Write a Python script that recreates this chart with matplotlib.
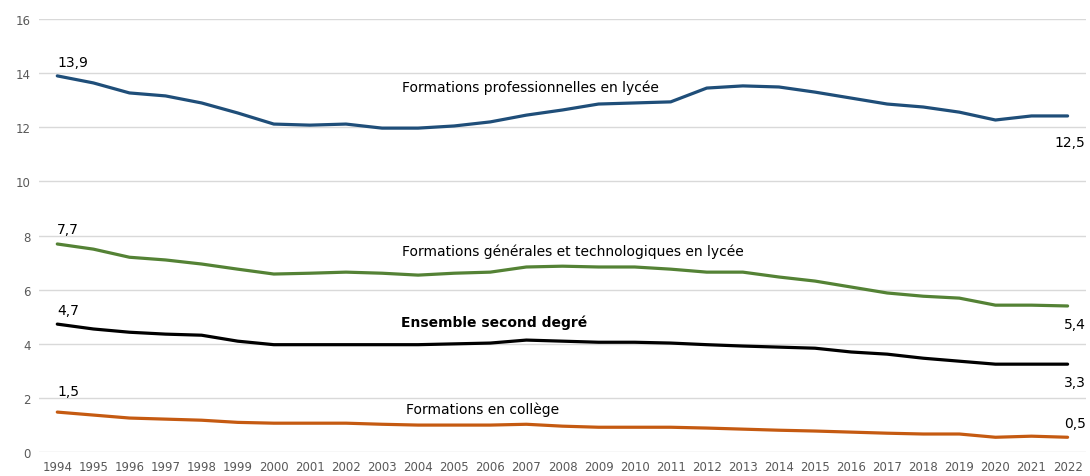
import matplotlib.pyplot as plt

years = list(range(1994, 2023))

pro = [13.9, 13.64, 13.27, 13.16, 12.9, 12.53, 12.12, 12.08, 12.12, 11.97,
       11.97, 12.05, 12.2, 12.45, 12.64, 12.86, 12.9, 12.94, 13.45, 13.53,
       13.49, 13.3, 13.08, 12.86, 12.75, 12.56, 12.27, 12.42, 12.42]
gen = [7.69, 7.5, 7.2, 7.1, 6.95, 6.76, 6.58, 6.61, 6.65, 6.61,
       6.54, 6.61, 6.65, 6.84, 6.87, 6.84, 6.84, 6.76, 6.65, 6.65,
       6.47, 6.32, 6.1, 5.88, 5.76, 5.69, 5.43, 5.43, 5.4]
ens = [4.73, 4.55, 4.43, 4.36, 4.32, 4.1, 3.97, 3.97, 3.97, 3.97,
       3.97, 4.0, 4.03, 4.14, 4.1, 4.06, 4.06, 4.03, 3.97, 3.92,
       3.88, 3.84, 3.7, 3.62, 3.47, 3.36, 3.25, 3.25, 3.25]
col = [1.48, 1.37, 1.26, 1.22, 1.18, 1.1, 1.07, 1.07, 1.07, 1.03,
       1.0, 1.0, 1.0, 1.03, 0.96, 0.92, 0.92, 0.92, 0.89, 0.85,
       0.81, 0.78, 0.74, 0.7, 0.67, 0.67, 0.55, 0.59, 0.55]

first_labels = ["13,9", "7,7", "4,7", "1,5"]
last_labels = ["12,5", "5,4", "3,3", "0,5"]

fig = plt.figure(figsize=(10.9, 4.77), dpi=100)
ax = fig.add_axes([0.036, 0.05, 0.96, 0.908])

ax.plot(years, pro, color="#1F4E79", lw=2.3, solid_capstyle="round")
ax.plot(years, gen, color="#548235", lw=2.3, solid_capstyle="round")
ax.plot(years, ens, color="black", lw=2.3, solid_capstyle="round")
ax.plot(years, col, color="#C55A11", lw=2.3, solid_capstyle="round")

ax.set_xlim(1993.5, 2022.5)
ax.set_ylim(0, 16)
ax.set_yticks(range(0, 17, 2))
ax.set_xticks(years)
ax.grid(axis="y", color="#D9D9D9", lw=1)
ax.set_axisbelow(True)
for s in ax.spines.values():
    s.set_visible(False)
ax.tick_params(length=0, labelsize=8.5, colors="#595959", pad=6)

fs = 10
for lab, y in zip(first_labels, [14.4, 8.24, 5.25, 2.25]):
    ax.text(1994.0, y, lab, fontsize=fs, ha="left", va="center")
for lab, y in zip(last_labels, [11.46, 4.75, 2.59, 1.07]):
    ax.text(2022.5, y, lab, fontsize=fs, ha="right", va="center")

ax.text(2007.1, 13.5, "Formations professionnelles en lycée", fontsize=fs, ha="center", va="center")
ax.text(2008.3, 7.43, "Formations générales et technologiques en lycée", fontsize=fs, ha="center", va="center")
ax.text(2006.1, 4.8, "Ensemble second degré", fontsize=fs, ha="center", va="center", fontweight="bold")
ax.text(2005.8, 1.59, "Formations en collège", fontsize=fs, ha="center", va="center")

fig.savefig("out.png", dpi=100)
